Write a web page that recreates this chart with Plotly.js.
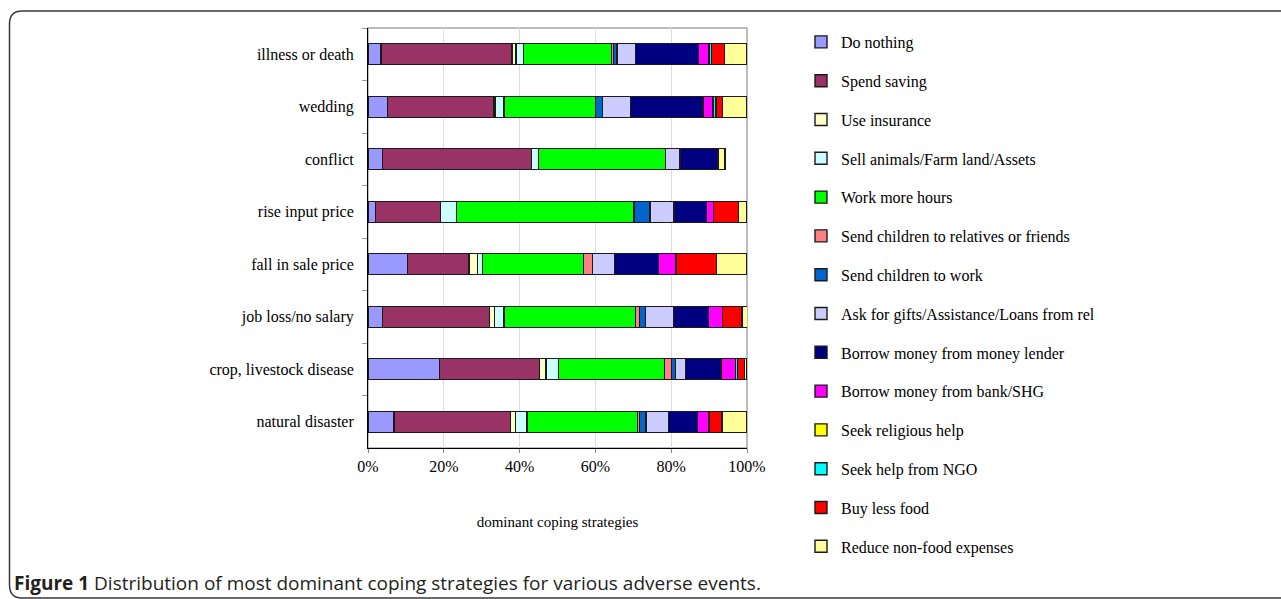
<!DOCTYPE html>
<html>
<head>
<meta charset="utf-8">
<script src="https://cdn.plot.ly/plotly-3.0.1.min.js"></script>
<style>
  html, body { margin: 0; padding: 0; background: #fff; }
  #chart { width: 1281px; height: 599px; }
</style>
</head>
<body>
<div id="chart"></div>
<script>
// Categories, top to bottom
var events = ["illness or death", "wedding", "conflict", "rise input price",
              "fall in sale price", "job loss/no salary", "crop, livestock disease", "natural disaster"];

// Strategy names (legend order)
var strategies = ["Do nothing", "Spend saving", "Use insurance", "Sell animals/Farm land/Assets",
  "Work more hours", "Send children to relatives or friends", "Send children to work",
  "Ask for gifts/Assistance/Loans from rel", "Borrow money from money lender",
  "Borrow money from bank/SHG", "Seek religious help", "Seek help from NGO",
  "Buy less food", "Reduce non-food expenses"];

// Percent of households per event (same order as events)
var doNothing     = [3.4, 5.1, 3.8, 1.9, 10.4, 3.8, 18.8, 6.9];
var spendSaving   = [34.6, 28.0, 39.3, 17.2, 16.3, 28.2, 26.4, 30.7];
var useInsurance  = [1.1, 0.4, 0, 0, 2.2, 1.3, 1.8, 1.3];
var sellAssets    = [1.9, 2.4, 1.9, 4.2, 1.3, 2.6, 3.3, 3.1];
var workMore      = [23.3, 24.1, 33.5, 46.9, 26.6, 34.7, 28.0, 29.1];
var sendRelatives = [0.4, 0, 0, 0, 2.4, 1.1, 1.8, 0.5];
var sendWork      = [1.0, 1.8, 0, 4.2, 0, 1.5, 1.0, 1.8];
var askGifts      = [4.9, 7.5, 3.8, 6.3, 5.8, 7.4, 2.7, 5.9];
var borrowLender  = [16.6, 19.1, 10.0, 8.6, 11.7, 9.3, 9.3, 7.7];
var borrowBank    = [2.6, 2.6, 0, 1.9, 4.6, 3.7, 3.8, 3.0];
var religious     = [0.3, 0, 0, 0, 0, 0, 0, 0];
var ngo           = [0.6, 0.8, 0, 0, 0, 0, 0.6, 0];
var buyLessFood   = [3.3, 1.8, 0, 6.6, 10.6, 5.1, 1.9, 3.4];
var reduceNonFood = [6.0, 6.4, 1.9, 2.0, 8.1, 1.4, 0.6, 6.6];

var seriesValues = [doNothing, spendSaving, useInsurance, sellAssets, workMore, sendRelatives,
  sendWork, askGifts, borrowLender, borrowBank, religious, ngo, buyLessFood, reduceNonFood];

var colors = ["#9999FF", "#993366", "#FFFFCC", "#CCFFFF", "#00FF00", "#FF8080", "#0066CC",
  "#CCCCFF", "#000080", "#FF00FF", "#FFFF00", "#00FFFF", "#FF0000", "#FFFF99"];

var xTicks = [0, 20, 40, 60, 80, 100];
var xTickText = ["0%", "20%", "40%", "60%", "80%", "100%"];
var xTitle = "dominant coping strategies";
var caption = "<b>Figure 1</b> Distribution of most dominant coping strategies for various adverse events.";

// Layout geometry (pixels)
var W = 1281, H = 599;
var L = 368, R = 747, T = 28, B = 448;
function px(x) { return (x - L) / (R - L); }
function py(y) { return (B - y) / (B - T); }

var serif = "'Liberation Serif', 'Times New Roman', serif";

var traces = strategies.map(function (name, i) {
  return {
    type: "bar",
    orientation: "h",
    name: name,
    legendgroup: name,
    y: events,
    x: seriesValues[i],
    marker: { color: colors[i], line: { color: "#1a1a1a", width: 1.4 } },
    hoverinfo: "name+x+y"
  };
});

var frame = "M" + px(1300) + "," + py(11) +
  " L" + px(22) + "," + py(11) +
  " Q" + px(9.5) + "," + py(11) + " " + px(9.5) + "," + py(24) +
  " L" + px(9.5) + "," + py(585) +
  " Q" + px(9.5) + "," + py(598) + " " + px(22) + "," + py(598) +
  " L" + px(1300) + "," + py(598);

var layout = {
  width: W, height: H,
  margin: { l: L, r: W - R, t: T, b: H - B, pad: 0 },
  paper_bgcolor: "#ffffff",
  plot_bgcolor: "#ffffff",
  barmode: "stack",
  bargap: 0.6,
  showlegend: true,
  font: { family: serif, size: 16, color: "#000" },
  xaxis: {
    range: [0, 100],
    tickmode: "array",
    tickvals: xTicks,
    ticktext: xTickText,
    showgrid: true,
    gridcolor: "#dcdcdc",
    gridwidth: 1,
    zeroline: false,
    showline: true,
    linecolor: "#000",
    linewidth: 1,
    ticks: "outside",
    ticklen: 4,
    tickcolor: "#888",
    tickfont: { family: serif, size: 16, color: "#000" },
    title: { text: xTitle, font: { family: serif, size: 15, color: "#000" }, standoff: 42 },
    fixedrange: true
  },
  yaxis: {
    type: "category",
    autorange: "reversed",
    showline: true,
    linecolor: "#000",
    linewidth: 1,
    ticks: "outside",
    tickson: "boundaries",
    ticklen: 5,
    tickcolor: "#999",
    showgrid: false,
    ticklabelstandoff: 10,
    tickfont: { family: serif, size: 16, color: "#000" },
    fixedrange: true
  },
  legend: {
    x: px(801), xanchor: "left",
    y: py(25), yanchor: "top",
    traceorder: "grouped",
    tracegroupgap: 15,
    itemwidth: 30,
    maxheight: 590,
    font: { family: serif, size: 16, color: "#000" },
    bgcolor: "rgba(0,0,0,0)",
    borderwidth: 0
  },
  shapes: [
    { type: "rect", xref: "paper", yref: "paper", x0: 0, x1: 1, y0: 0, y1: 1,
      line: { color: "#a6a6a6", width: 1.5 }, layer: "below" },
    { type: "path", xref: "paper", yref: "paper", path: frame,
      line: { color: "#3a3a3a", width: 1.5 } }
  ],
  annotations: [
    { xref: "paper", yref: "paper", x: px(12), y: py(583), xanchor: "left", yanchor: "middle",
      text: caption, showarrow: false,
      font: { family: "'Open Sans', Roboto, sans-serif", size: 19, color: "#231f20" } }
  ]
};

Plotly.newPlot("chart", traces, layout, { displayModeBar: false, staticPlot: true });
</script>
</body>
</html>
